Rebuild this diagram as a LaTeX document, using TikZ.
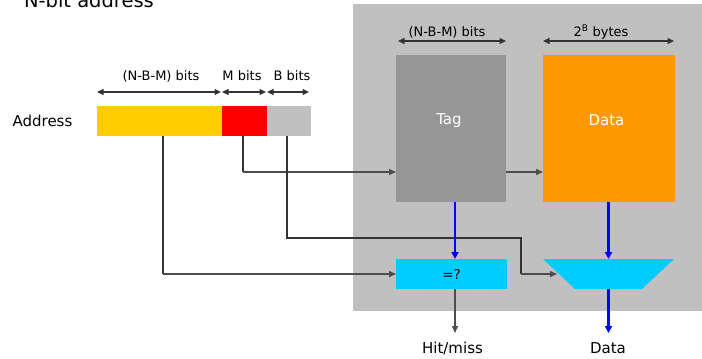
\documentclass[tikz,border=0pt]{standalone}
\usepackage{fontspec}
\setmainfont{DejaVu Sans}
\usetikzlibrary{arrows.meta}

\definecolor{addryellow}{HTML}{FFCC00}
\definecolor{addrred}{HTML}{FF0000}
\definecolor{cachegray}{HTML}{C0C0C0}
\definecolor{taggray}{HTML}{969696}
\definecolor{dataorange}{HTML}{FF9900}
\definecolor{logiccyan}{HTML}{00CCFF}
\definecolor{busblue}{HTML}{0000FF}
\definecolor{wirecol}{HTML}{333333}
\definecolor{feedcol}{HTML}{4D4D4D}

\begin{document}
\begin{tikzpicture}[x=1pt,y=-1pt,
  every node/.style={inner sep=0pt, outer sep=0pt},
  field/.style={minimum height=30pt, anchor=north west},
  wire/.style={draw=wirecol, line width=1.8pt},
  feed/.style={draw=feedcol, line width=1.4pt, -{Triangle[length=7pt,width=6pt]}},
  bus/.style={draw=busblue, line width=2.2pt, -{Triangle[length=7pt,width=7pt]}},
  dim/.style={draw=wirecol, line width=1.1pt,
    {Triangle[length=6.5pt,width=6pt]}-{Triangle[length=6.5pt,width=6pt]}},
  small/.style={font=\fontsize{13}{15}\selectfont},
  big/.style={font=\fontsize{15}{18}\selectfont},
  outlabel/.style={big, text height=11pt, text depth=0pt, outer ysep=9pt}]

\useasboundingbox (0,0) rectangle (702,359);

% cache block background
\node[fill=cachegray, minimum width=349pt, minimum height=307pt, anchor=north west] (cache) at (353,4) {};

% heading
\node[font=\fontsize{19.5}{23}\selectfont, anchor=base west] (title) at (24,7) {N-bit address};

% address fields
\node[big] (addr) at (42.5,121) {Address};
\node[field, fill=addryellow, minimum width=125pt] (tagf) at (97,106) {};
\node[field, fill=addrred, minimum width=45pt] (idxf) at (tagf.north east) {};
\node[field, fill=cachegray, minimum width=44pt] (offf) at (idxf.north east) {};

% field widths
\draw[dim] ([yshift=14pt]tagf.north west) -- ([yshift=14pt,xshift=-1pt]tagf.north east);
\draw[dim] ([yshift=14pt]idxf.north west) -- ([yshift=14pt,xshift=-1pt]idxf.north east);
\draw[dim] ([yshift=14pt]offf.north west) -- ([yshift=14pt,xshift=-2pt]offf.north east);
\node[small] (tagw) at (161,76) {(N-B-M) bits};
\node[small] (idxw) at (242,76) {M bits};
\node[small] (offw) at (292,76) {B bits};

% tag and data arrays
\node[fill=taggray, minimum width=110pt, minimum height=147pt, anchor=north west] (tagarr) at (396,55) {};
\node[fill=dataorange, minimum width=132pt, minimum height=147pt, anchor=north west] (dataarr) at (543,55) {};
\node[big, text=white] (taglbl) at (449,121) {Tag};
\node[big, text=white] (datalbl) at (606.5,120) {Data};

\draw[dim] ([yshift=14pt,xshift=2pt]tagarr.north west) -- ([yshift=14pt]tagarr.north east);
\draw[dim] ([yshift=14pt]dataarr.north west) -- ([yshift=14pt,xshift=-1pt]dataarr.north east);
\node[small] (tagaw) at (447,32) {(N-B-M) bits};
\node[small] (dataaw) at (601,32) {2\textsuperscript{B} bytes};

% comparator
\node[fill=logiccyan, minimum width=111pt, minimum height=30pt, anchor=north west,
      font=\fontsize{13.5}{16}\selectfont] (cmp) at (396,259) {=?};

% multiplexer: a frame node carrying the anchors, filled as an inverted trapezium
\node[minimum width=131pt, minimum height=30pt] (mux) at (608.5,274) {};
\fill[logiccyan] (mux.north west) -- (mux.north east)
  -- ([xshift=-32pt]mux.south east) -- ([xshift=32pt]mux.south west) -- cycle;
\coordinate (muxin) at ([xshift=14pt]mux.west);

% outputs
\node[outlabel] (hit) at (452.5,347.5) {Hit/miss};
\node[outlabel] (dout) at (608,347.5) {Data};

% wiring from the address fields
\coordinate (ytap) at (163,0);
\coordinate (rbend) at (243,172);
\coordinate (obend1) at (287,238);
\coordinate (obend2) at (521,238);
\coordinate (tbus) at (455,0);

\draw[wire] (tagf.south -| ytap) -- (cmp.west -| ytap);
\draw[feed] (cmp.west -| ytap) -- (cmp.west);

\draw[wire] (idxf.south -| rbend) -- (rbend);
\draw[feed] (rbend) -- (tagarr.west |- rbend);

\draw[wire] (offf.south -| obend1) -- (obend1) -- (obend2) -- (obend2 |- muxin);
\draw[feed] (obend2 |- muxin) -- (muxin);

\draw[feed] (tagarr.east |- rbend) -- (dataarr.west |- rbend);

% data paths
\draw[bus] (tagarr.south -| tbus) -- (cmp.north -| tbus);
\draw[bus] (dataarr.south -| mux.north) -- (mux.north);
\draw[bus] (mux.south) -- (mux.south |- dout.north);
\draw[feed] (cmp.south -| tbus) -- (hit.north -| tbus);

\end{tikzpicture}
\end{document}
